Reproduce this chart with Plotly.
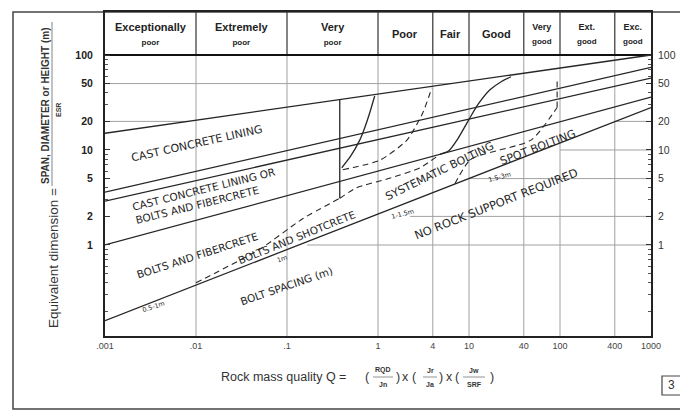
import math
import plotly.graph_objects as go

# ---------------- data ----------------
class_bounds = [0.001, 0.01, 0.1, 1, 4, 10, 40, 100, 400, 1000]
class_top = ["Exceptionally", "Extremely", "Very", "Poor", "Fair", "Good", "Very", "Ext.", "Exc."]
class_sub = ["poor", "poor", "poor", "", "", "", "good", "good", "good"]

x_tick_vals = [0.001, 0.01, 0.1, 1, 4, 10, 40, 100, 400, 1000]
x_tick_text = [".001", ".01", ".1", "1", "4", "10", "40", "100", "400", "1000"]
y_tick_vals = [1, 2, 5, 10, 20, 50, 100]
y_tick_text = ["1", "2", "5", "10", "20", "50", "100"]

# solid boundary lines (Q, equivalent dimension)
line_a_q = [0.001, 1000]
line_a_de = [15, 100]
line_b_q = [0.001, 1000]
line_b_de = [3.6, 74]
line_c_q = [0.001, 1000]
line_c_de = [2.9, 57]
line_d_q = [0.001, 1000]
line_d_de = [1.0, 36]
line_e_q = [0.001, 1000]
line_e_de = [0.16, 28]

# vertical solid divider in the "very poor" class
vert_q = [0.38, 0.38]
vert_de = [34, 3.1]

# curves
curve_vp_q = [0.40, 0.50, 0.63, 0.72, 0.81, 0.92]
curve_vp_de = [6.5, 8.6, 12.7, 17.5, 24.5, 37]
curve_poor_q = [0.41, 1.05, 2.08, 3.1, 3.9]
curve_poor_de = [6.2, 7.8, 12.7, 24.5, 45]
curve_good_q = [4.8, 6.0, 7.5, 10.0, 12.5, 17.0, 23.0, 29.0]
curve_good_de = [9.0, 9.8, 13.0, 21.0, 30.0, 43.0, 53.0, 59.0]

# dashed boundaries
dash_low_q = [0.01, 0.05, 0.15, 0.38]
dash_low_de = [0.40, 0.90, 1.9, 3.1]
dash_up_q = [0.38, 0.58, 1.3, 2.9, 4.8]
dash_up_de = [3.1, 4.0, 5.0, 6.5, 9.0]
dash_spot_q = [7.0, 10.5, 48, 93]
dash_spot_de = [4.4, 8.0, 12.7, 28]
dash_vert_q = [93, 93]
dash_vert_de = [28, 58]

# partial horizontal grid lines
grid_right_levels = [1, 2, 5, 10, 20]
grid_right_start_q = [0.166, 2.25, 10.2, 100, 400]
grid_left_levels = [20, 50]
grid_left_end_q = [0.0083, 6.4]

Y_LOW, Y_HIGH = -0.958, 2.4526
y_low_val = 10 ** Y_LOW
y_top_val = 10 ** Y_HIGH

LINE_COL = "#262626"
GRID_COL = "#a0a0a0"

fig = go.Figure()


def add_line(xs, ys, dash="solid", width=1.3, color=LINE_COL, smooth=True):
    fig.add_trace(go.Scatter(x=xs, y=ys, mode="lines",
                             line=dict(color=color, width=width, dash=dash,
                                       shape="spline" if smooth else "linear", smoothing=0.6),
                             showlegend=False, hoverinfo="skip"))


# vertical grid lines + header separators
for q in class_bounds[1:-1]:
    add_line([q, q], [y_low_val, 100], width=1, color=GRID_COL, smooth=False)
    add_line([q, q], [100, y_top_val], width=1.2, color="#333", smooth=False)

# partial horizontal grid lines
for lv, q0 in zip(grid_right_levels, grid_right_start_q):
    add_line([q0, 1000], [lv, lv], width=1, color=GRID_COL, smooth=False)
for lv, q1 in zip(grid_left_levels, grid_left_end_q):
    add_line([0.001, q1], [lv, lv], width=1, color=GRID_COL, smooth=False)

# header base line at 100
add_line([0.001, 1000], [100, 100], width=2.2, color="#111", smooth=False)

# main boundaries
for qs, ds in [(line_a_q, line_a_de), (line_b_q, line_b_de), (line_c_q, line_c_de),
               (line_d_q, line_d_de), (line_e_q, line_e_de), (vert_q, vert_de),
               (curve_vp_q, curve_vp_de), (curve_good_q, curve_good_de)]:
    add_line(qs, ds)

for qs, ds in [(curve_poor_q, curve_poor_de), (dash_low_q, dash_low_de),
               (dash_up_q, dash_up_de), (dash_spot_q, dash_spot_de), (dash_vert_q, dash_vert_de)]:
    add_line(qs, ds, dash="6px,4px", width=1.1)

# invisible trace for right axis
fig.add_trace(go.Scatter(x=[1], y=[1], yaxis="y2", mode="markers",
                         marker=dict(opacity=0), showlegend=False, hoverinfo="skip"))

# header labels (annotation positions on log axes are given in log10 units)
for i in range(len(class_top)):
    lo, hi = class_bounds[i], class_bounds[i + 1]
    xm = (math.log10(lo) + math.log10(hi)) / 2
    ym = (2 + Y_HIGH) / 2
    if class_sub[i]:
        big = 11 if i < 3 else 9
        txt = (f"<span style='font-size:{big}px'><b>{class_top[i]}</b></span><br>"
               f"<span style='font-size:8px'><b>{class_sub[i]}</b></span>")
    else:
        txt = f"<b>{class_top[i]}</b>"
    fig.add_annotation(x=xm, y=ym, xref="x", yref="y", text=txt, showarrow=False,
                       font=dict(family="Liberation Sans", size=11, color="#222"),
                       xanchor="center", yanchor="middle")

# region labels
region_labels = [
    ("CAST CONCRETE LINING", 0.0103, 11.6, -12.6, 11),
    ("CAST CONCRETE LINING OR<br>BOLTS AND FIBERCRETE", 0.0126, 3.28, -14, 10.5),
    ("BOLTS AND FIBERCRETE", 0.0105, 0.785, -18, 10.5),
    ("BOLTS AND SHOTCRETE", 0.13, 1.2, -22, 10.5),
    ("BOLT SPACING (m)", 0.0975, 0.37, -19, 10.5),
    ("SYSTEMATIC BOLTING", 4.7, 6.0, -26, 11),
    ("SPOT BOLTING", 57, 10.6, -21, 11),
    ("NO ROCK SUPPORT REQUIRED", 19.8, 2.7, -21.5, 11.5),
    ("0.5-1m", 0.00337, 0.222, -18, 6.5),
    ("1m", 0.088, 0.71, -20, 6.5),
    ("1-1.5m", 1.88, 2.12, -15, 6.5),
    ("1.5-3m", 21.9, 5.2, -15, 6.5),
]
for txt, qx, dy, ang, fs in region_labels:
    fig.add_annotation(x=math.log10(qx), y=math.log10(dy), xref="x", yref="y", text=txt,
                       showarrow=False, textangle=ang, align="left",
                       xanchor="center", yanchor="middle",
                       font=dict(family="DejaVu Sans", size=fs, color="#262626"))

# ---- window-pixel helpers for decorations (page body adds an 8px offset) ----
OFF = 8
FIG_W, FIG_H = 688 - OFF, 412 - OFF
PL, PW, PT, PH = 105 - OFF, 546, 12 - OFF, 324


def px(xp):
    return (xp - OFF - PL) / PW


def py(yp):
    return (PT + PH - (yp - OFF)) / PH


def note(x, y, text, size, angle=0, anchor="center", family="Liberation Sans", color="#333"):
    fig.add_annotation(x=px(x), y=py(y), xref="paper", yref="paper", text=text, showarrow=False,
                       textangle=angle, xanchor=anchor, yanchor="middle",
                       font=dict(family=family, size=size, color=color))


# y-axis title
note(53, 258, "Equivalent dimension =", 13.5, angle=-90)
note(46, 106, "<b>SPAN, DIAMETER or HEIGHT (m)</b>", 10, angle=-90)
note(58, 110, "<b>ESR</b>", 7, angle=-90)
fig.add_shape(type="line", xref="paper", yref="paper", x0=px(52), x1=px(52), y0=py(22), y1=py(186),
              line=dict(color="#666", width=0.8))

# x-axis title with fractions
note(348, 377, "Rock mass quality Q =", 12.5, anchor="right")
for sym, xx in [("(", 367), (")", 398), ("x", 405), ("(", 414), (")", 441), ("x", 449), ("(", 457), (")", 492)]:
    note(xx, 377, sym, 12.5)
for num, den, xc, hw in [("RQD", "Jn", 383, 10), ("Jr", "Ja", 430, 7), ("Jw", "SRF", 474, 11)]:
    note(xc, 370, f"<b>{num}</b>", 7)
    note(xc, 384, f"<b>{den}</b>", 7)
    fig.add_shape(type="line", xref="paper", yref="paper", x0=px(xc - hw), x1=px(xc + hw),
                  y0=py(377), y1=py(377), line=dict(color="#666", width=0.7))

# figure number box
fig.add_shape(type="rect", xref="paper", yref="paper", x0=px(662), x1=px(681), y0=py(395), y1=py(376),
              line=dict(color="#444", width=1.2))
note(671.5, 385.5, "3", 12)

# outer frame
fig.add_shape(type="rect", xref="paper", yref="paper", x0=px(13), x1=px(720), y0=py(409), y1=py(12),
              line=dict(color="#444", width=1.5), layer="below")

minor_vals = [m * 10 ** e for e in range(-1, 2) for m in range(2, 10) if (m * 10 ** e) not in y_tick_vals]

fig.update_layout(
    width=FIG_W, height=FIG_H,
    margin=dict(l=PL, r=FIG_W - PL - PW, t=PT, b=FIG_H - PT - PH, autoexpand=False),
    paper_bgcolor="white", plot_bgcolor="white",
    xaxis=dict(type="log", range=[-3, 3], showgrid=False, zeroline=False, automargin=False,
               tickmode="array", tickvals=x_tick_vals, ticktext=x_tick_text, ticks="",
               tickfont=dict(family="Liberation Sans", size=9, color="#444"),
               showline=True, linecolor="#222", linewidth=2, mirror=True),
    yaxis=dict(type="log", range=[Y_LOW, Y_HIGH], showgrid=False, zeroline=False, automargin=False,
               tickmode="array", tickvals=y_tick_vals,
               ticktext=[f"<b>{t}</b>" for t in y_tick_text],
               ticks="inside", ticklen=5, tickcolor="#333", tickwidth=1,
               ticklabelstandoff=8,
               tickfont=dict(family="Liberation Sans", size=10.5, color="#222"),
               minor=dict(tickvals=minor_vals, ticks="inside", ticklen=3, tickcolor="#555"),
               showline=True, linecolor="#222", linewidth=2, mirror=True),
    yaxis2=dict(type="log", range=[Y_LOW, Y_HIGH], overlaying="y", side="right", showgrid=False,
                zeroline=False, automargin=False, tickmode="array", tickvals=y_tick_vals,
                ticktext=y_tick_text,
                ticks="inside", ticklen=5, tickcolor="#333", ticklabelstandoff=6,
                tickfont=dict(family="Liberation Sans", size=10.5, color="#333"),
                minor=dict(tickvals=minor_vals, ticks="inside", ticklen=3, tickcolor="#555"),
                showline=False),
    showlegend=False,
)

fig.write_html("out.html")
